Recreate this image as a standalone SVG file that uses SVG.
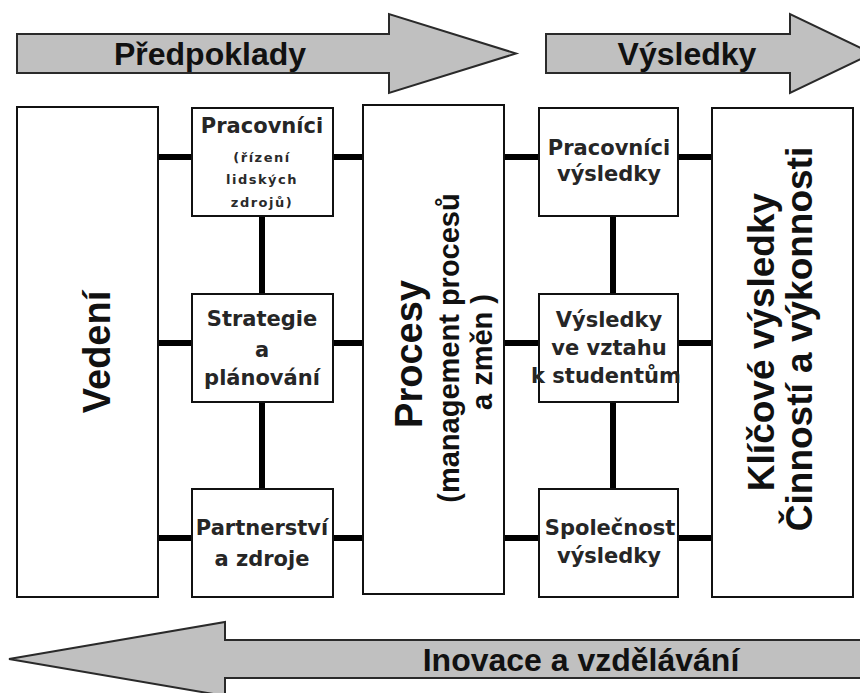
<svg xmlns="http://www.w3.org/2000/svg" width="860" height="693" viewBox="0 0 860 693">
<style>
.arrow{fill:#c0c0c0;stroke:#2a2a2a;stroke-width:2;stroke-linejoin:miter}
.atext{font-family:"Liberation Sans",Arial,sans-serif;font-weight:bold;font-size:32px;fill:#111;text-anchor:middle}
.box{fill:#fff;stroke:#111;stroke-width:2}
.btext{font-family:"DejaVu Sans",Verdana,sans-serif;font-weight:bold;font-size:21px;fill:#262626;text-anchor:middle}
.stext{font-family:"DejaVu Sans",Verdana,sans-serif;font-weight:bold;font-size:13px;letter-spacing:1.5px;fill:#2a2a2a;text-anchor:middle}
.vtext{font-family:"Liberation Sans",Arial,sans-serif;font-weight:bold;fill:#111;text-anchor:middle}
.conn{stroke:#000;stroke-width:6;fill:none}
</style>
<rect width="860" height="693" fill="#fff"/>
<g id="arrow-predpoklady">
<polygon class="arrow" points="17,34 389,34 389,14 516,53.5 389,93 389,73 17,73"/>
<text class="atext" x="210" y="65">Předpoklady</text>
</g>
<g id="arrow-vysledky">
<polygon class="arrow" points="546,34 790,34 790,14 872,53.5 790,93 790,73 546,73"/>
<text class="atext" x="687" y="65">Výsledky</text>
</g>
<g id="arrow-inovace">
<polygon class="arrow" points="870,640 225,640 225,622 9,659 225,696 225,678 870,678"/>
<text class="atext" x="581" y="671">Inovace a vzdělávání</text>
</g>
<g id="connectors">
<line class="conn" x1="158" y1="157" x2="192" y2="157"/>
<line class="conn" x1="333" y1="157" x2="363" y2="157"/>
<line class="conn" x1="504" y1="157" x2="539" y2="157"/>
<line class="conn" x1="678" y1="157" x2="712" y2="157"/>
<line class="conn" x1="158" y1="343" x2="192" y2="343"/>
<line class="conn" x1="333" y1="343" x2="363" y2="343"/>
<line class="conn" x1="504" y1="343" x2="539" y2="343"/>
<line class="conn" x1="678" y1="343" x2="712" y2="343"/>
<line class="conn" x1="158" y1="538" x2="192" y2="538"/>
<line class="conn" x1="333" y1="538" x2="363" y2="538"/>
<line class="conn" x1="504" y1="538" x2="539" y2="538"/>
<line class="conn" x1="678" y1="538" x2="712" y2="538"/>
<line class="conn" x1="262" y1="216" x2="262" y2="294"/>
<line class="conn" x1="262" y1="402" x2="262" y2="489"/>
<line class="conn" x1="613" y1="216" x2="613" y2="294"/>
<line class="conn" x1="613" y1="402" x2="613" y2="489"/>
</g>
<g id="vedeni">
<rect class="box" x="17" y="107" width="141" height="490"/>
<text class="vtext" font-size="38" transform="translate(110,352) rotate(-90)">Vedení</text>
</g>
<g id="pracovnici">
<rect class="box" x="192" y="108" width="141" height="108"/>
<text class="btext" x="262" y="133">Pracovníci</text>
<text class="stext" x="262" y="162">(řízení</text>
<text class="stext" x="262" y="184">lidských</text>
<text class="stext" x="262" y="207">zdrojů)</text>
</g>
<g id="strategie">
<rect class="box" x="192" y="294" width="141" height="108"/>
<text class="btext" x="262" y="326">Strategie</text>
<text class="btext" x="262" y="357">a</text>
<text class="btext" x="262" y="385">plánování</text>
</g>
<g id="partnerstvi">
<rect class="box" x="192" y="489" width="141" height="108"/>
<text class="btext" x="262" y="535">Partnerství</text>
<text class="btext" x="262" y="566">a zdroje</text>
</g>
<g id="procesy">
<rect class="box" x="363" y="105" width="141" height="489"/>
<text class="vtext" font-size="38" transform="translate(422,354) rotate(-90)">Procesy</text>
<text class="vtext" font-size="29" transform="translate(459,348) rotate(-90)">(management procesů</text>
<text class="vtext" font-size="29" transform="translate(492,352) rotate(-90)">a změn )</text>
</g>
<g id="pracovnici-vysledky">
<rect class="box" x="539" y="108" width="139" height="108"/>
<text class="btext" x="609" y="155">Pracovníci</text>
<text class="btext" x="609" y="181">výsledky</text>
</g>
<g id="vysledky-studenti">
<rect class="box" x="539" y="294" width="139" height="108"/>
<text class="btext" x="609" y="327">Výsledky</text>
<text class="btext" x="609" y="355">ve vztahu</text>
<text class="btext" x="606" y="383">k studentům</text>
</g>
<g id="spolecnost">
<rect class="box" x="539" y="489" width="139" height="108"/>
<text class="btext" x="610" y="535">Společnost</text>
<text class="btext" x="609" y="563">výsledky</text>
</g>
<g id="klicove">
<rect class="box" x="712" y="108" width="141" height="489"/>
<text class="vtext" font-size="37" transform="translate(774,342) rotate(-90)">Klíčové výsledky</text>
<text class="vtext" font-size="37" transform="translate(812,339) rotate(-90)">Činností a výkonnosti</text>
</g>
</svg>
